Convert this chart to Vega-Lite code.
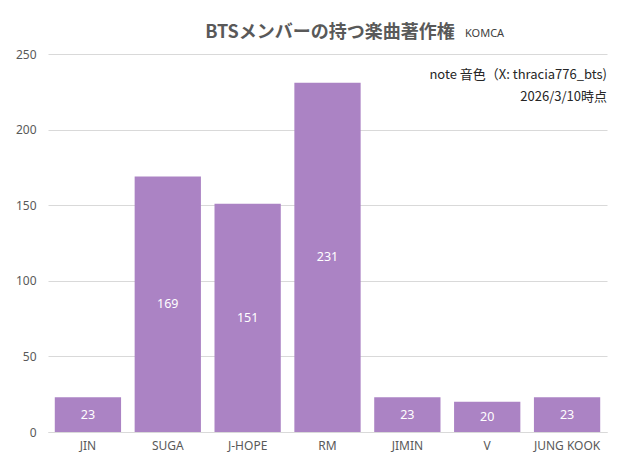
{
  "$schema": "https://vega.github.io/schema/vega-lite/v6.json",
  "width": 559,
  "height": 378,
  "autosize": {"type": "none"},
  "padding": {"left": 48, "top": 54, "right": 18, "bottom": 38},
  "background": "#ffffff",
  "config": {
    "view": {"stroke": null},
    "font": "Noto Sans CJK JP"
  },
  "data": {
    "values": [
      {"member": "JIN", "songs": 23},
      {"member": "SUGA", "songs": 169},
      {"member": "J-HOPE", "songs": 151},
      {"member": "RM", "songs": 231},
      {"member": "JIMIN", "songs": 23},
      {"member": "V", "songs": 20},
      {"member": "JUNG KOOK", "songs": 23}
    ]
  },
  "layer": [
    {
      "mark": {"type": "bar", "color": "#ab83c4"},
      "encoding": {
        "x": {
          "field": "member",
          "type": "nominal",
          "sort": null,
          "title": null,
          "scale": {"paddingInner": 0.17, "paddingOuter": 0.085},
          "axis": {
            "labelAngle": 0,
            "labelColor": "#595959",
            "labelFontSize": 12,
            "labelFont": "Noto Sans",
            "labelPadding": 8,
            "ticks": false,
            "domainColor": "#d9d9d9"
          }
        },
        "y": {
          "field": "songs",
          "type": "quantitative",
          "title": null,
          "scale": {"domain": [0, 250], "nice": false},
          "axis": {
            "values": [0, 50, 100, 150, 200, 250],
            "labelColor": "#595959",
            "labelFontSize": 12,
            "labelFont": "Noto Sans",
            "labelPadding": 12,
            "ticks": false,
            "domain": false,
            "gridColor": "#d9d9d9"
          }
        }
      }
    },
    {
      "transform": [{"calculate": "datum.songs / 2", "as": "mid"}],
      "mark": {"type": "text", "color": "#ffffff", "fontSize": 12.5, "font": "Noto Sans", "baseline": "middle"},
      "encoding": {
        "x": {"field": "member", "type": "nominal", "sort": null},
        "y": {"field": "mid", "type": "quantitative"},
        "text": {"field": "songs", "type": "quantitative"}
      }
    },
    {
      "data": {"values": [{"t": "BTSメンバーの持つ楽曲著作権"}]},
      "mark": {"type": "text", "align": "center", "baseline": "middle", "fontSize": 18, "fontWeight": "bold", "color": "#595959", "font": "Noto Sans CJK JP", "x": 282, "y": -21},
      "encoding": {"text": {"field": "t"}}
    },
    {
      "data": {"values": [{"t": "KOMCA"}]},
      "mark": {"type": "text", "align": "left", "baseline": "middle", "fontSize": 11, "color": "#404040", "font": "Noto Sans", "x": 417, "y": -20},
      "encoding": {"text": {"field": "t"}}
    },
    {
      "data": {"values": [{"t": "note 音色（X: thracia776_bts)"}]},
      "mark": {"type": "text", "align": "right", "baseline": "middle", "fontSize": 13, "color": "#262626", "x": 559, "y": 21},
      "encoding": {"text": {"field": "t"}}
    },
    {
      "data": {"values": [{"t": "2026/3/10時点"}]},
      "mark": {"type": "text", "align": "right", "baseline": "middle", "fontSize": 13, "color": "#262626", "x": 559, "y": 43},
      "encoding": {"text": {"field": "t"}}
    }
  ]
}
